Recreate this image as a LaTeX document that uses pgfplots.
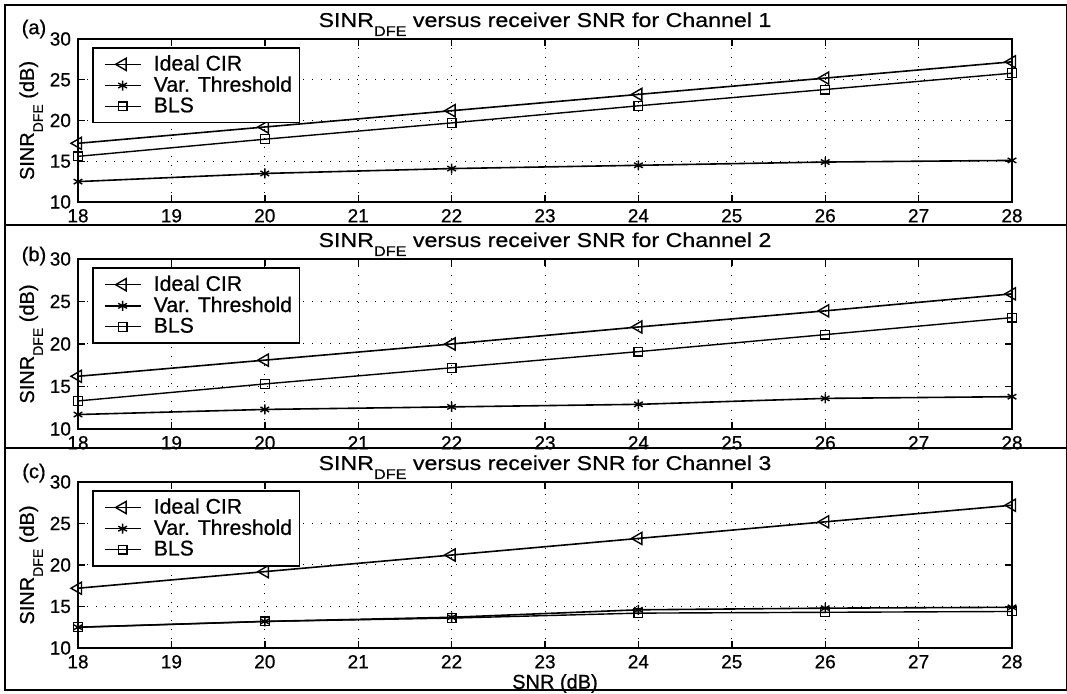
\documentclass[border=0pt]{standalone}
\usepackage{fontspec}
\setmainfont{Liberation Sans}[FakeBold=0.6]
\newfontfamily\titlefont{Liberation Sans}[FakeStretch=1.16, FakeBold=0.6]
\usepackage{pgfplots}
\pgfplotsset{compat=1.18}
\newcommand{\fs}{\fontsize{9.5}{11}\selectfont}
\newcommand{\fl}{\fontsize{10}{11}\selectfont}
\newcommand{\fg}{\fontsize{10.6}{11}\selectfont}
\newcommand{\ft}{\titlefont\fontsize{10}{11}\selectfont}
\newcommand{\dfe}{\raisebox{-4.5pt}{\fontsize{7}{8}\selectfont DFE}}
\pgfplotsset{
 panel/.style={
  scale only axis, width=467pt,
  xmin=18, xmax=28, ymin=10, ymax=30,
  xtick={18,...,28}, ytick={10,15,20,25,30},
  grid=major,
  major grid style={black, line width=0.5pt, dash pattern=on 0.7pt off 3.8pt},
  tick align=inside, tick pos=both, major tick length=3.5pt,
  axis line style={line width=0.9pt},
  every tick/.style={black, line width=0.7pt},
  font=\fs, ticklabel style={font=\fs},
  /pgf/number format/assume math mode=true,
  ylabel={SINR\dfe\ (dB)},
  ylabel style={at={(axis description cs:-0.030,0.5)}, anchor=south, font=\fl},
  title style={anchor=base, font=\ft},
  legend style={at={(rel axis cs:0.015,0.951)}, anchor=north west, draw=black,
    line width=0.8pt, font=\fg, inner sep=1.5pt, row sep=-3pt,
    nodes={inner sep=2.2pt}},
  legend cell align=left,
 },
 every axis plot/.append style={
  legend image code/.code={%
    \draw[mark repeat=2, mark phase=2, #1] plot coordinates {(4pt,0pt) (13pt,0pt) (22pt,0pt)};
    \path (0pt,0pt) (26pt,0pt);}},
 ideal/.style={black, line width=0.8pt, mark=triangle, mark size=3.5pt, mark options={rotate=90, solid, line width=0.7pt}},
 vart/.style={black, line width=0.8pt, mark=asterisk, mark size=2.5pt, mark options={solid, line width=0.7pt}},
 bls/.style={black, line width=0.7pt, mark=square, mark size=2.2pt, mark options={solid, line width=0.6pt}},
}
\begin{document}
\begin{tikzpicture}
\useasboundingbox (0,0) rectangle (533.5pt,347pt);
\draw[line width=0.8pt] (2.5pt,2pt) rectangle (533.5pt,344.5pt);
\draw[line width=0.8pt] (2.5pt,234.5pt) -- (533.5pt,234.5pt);
\draw[line width=0.8pt] (2.5pt,123pt) -- (533.5pt,123pt);
\node[font=\fl] at (17pt,332.5pt) {(a)};
\node[font=\fl] at (17pt,219pt) {(b)};
\node[font=\fl] at (17pt,110.5pt) {(c)};

\begin{axis}[panel, at={(39pt,246pt)}, anchor=south west, height=81.5pt,
  title={SINR\dfe{} versus receiver SNR for Channel 1}]
\addplot[ideal] coordinates {(18,17.2) (20,19.2) (22,21.2) (24,23.2) (26,25.2) (28,27.2)};
\addplot[vart] coordinates {(18,12.5) (20,13.5) (22,14.1) (24,14.5) (26,14.9) (28,15.1)};
\addplot[bls] coordinates {(18,15.6) (20,17.7) (22,19.7) (24,21.8) (26,23.8) (28,25.8)};
\legend{Ideal CIR, Var. Threshold, BLS}
\end{axis}

\begin{axis}[panel, at={(39pt,132.5pt)}, anchor=south west, height=85pt,
  title={SINR\dfe{} versus receiver SNR for Channel 2}]
\addplot[ideal] coordinates {(18,16.2) (20,18.1) (22,20.0) (24,22.0) (26,23.9) (28,25.9)};
\addplot[vart] coordinates {(18,11.7) (20,12.3) (22,12.6) (24,12.9) (26,13.6) (28,13.8)};
\addplot[bls] coordinates {(18,13.3) (20,15.3) (22,17.2) (24,19.1) (26,21.1) (28,23.1)};
\legend{Ideal CIR, Var. Threshold, BLS}
\end{axis}

\begin{axis}[panel, at={(39pt,23pt)}, anchor=south west, height=83pt,
  title={SINR\dfe{} versus receiver SNR for Channel 3},
  xlabel={SNR (dB)}, xlabel style={font=\fl, yshift=4pt, xshift=5pt}]
\addplot[ideal] coordinates {(18,17.2) (20,19.2) (22,21.2) (24,23.2) (26,25.2) (28,27.2)};
\addplot[vart] coordinates {(18,12.5) (20,13.2) (22,13.7) (24,14.6) (26,14.8) (28,14.9)};
\addplot[bls] coordinates {(18,12.5) (20,13.2) (22,13.6) (24,14.2) (26,14.3) (28,14.4)};
\legend{Ideal CIR, Var. Threshold, BLS}
\end{axis}
\end{tikzpicture}
\end{document}
